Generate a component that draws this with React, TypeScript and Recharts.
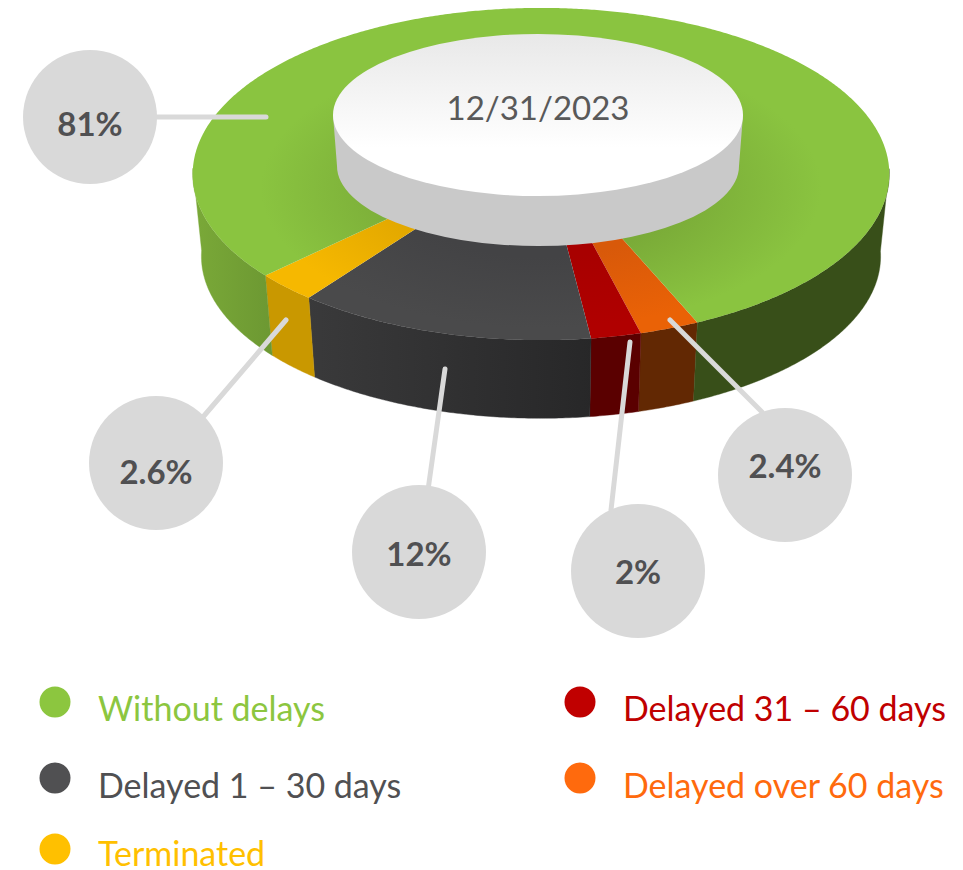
import React from "react";
import { PieChart, Pie, Cell, Legend } from "recharts";

// ---- data ----
const categories = ["Delayed over 60 days", "Delayed 31 – 60 days", "Delayed 1 – 30 days", "Terminated", "Without delays"];
const shares = [2.4, 2, 12, 2.6, 81];
const shareLabels = ["2.4%", "2%", "12%", "2.6%", "81%"];
const centerTitle = "12/31/2023";
const legendOrder = ["Without delays", "Delayed 1 – 30 days", "Terminated", "Delayed 31 – 60 days", "Delayed over 60 days"];

// ---- styles / layout ----
const legendColors: Record<string, string> = {
  "Without delays": "#8CC63F",
  "Delayed 1 – 30 days": "#505052",
  "Terminated": "#FFC000",
  "Delayed 31 – 60 days": "#C00000",
  "Delayed over 60 days": "#FF6A0D",
};
const legendLayout = [
  { cx: 55, cy: 702, tx: 98, ty: 721 },
  { cx: 55, cy: 778, tx: 98, ty: 798 },
  { cx: 55, cy: 849, tx: 98, ty: 866 },
  { cx: 580, cy: 702, tx: 623, ty: 721 },
  { cx: 580, cy: 778, tx: 623, ty: 798 },
];
const topInner = ["#d8590a", "#a80000", "#434345", "#e0a600", "#7aab38"];
const topOuter = ["#ea6206", "#b00000", "#4a4a4b", "#f6b800", "#8ac440"];
const wallStops: [number, string][][] = [
  [[0, "#622803"], [1, "#622803"]],
  [[0, "#5a0000"], [1, "#5a0000"]],
  [[0.16, "#3a3a3b"], [0.6, "#262627"]],
  [[0, "#c99800"], [1, "#c99800"]],
  [[0, "#7aa938"], [0.1, "#6e9a33"], [0.7, "#384f19"], [1, "#384f19"]],
];
const bubbles = [
  { x: 785, y: 475, ty: 478, ax: 670, ay: 320, lx: 762, ly: 412 },
  { x: 638, y: 571, ty: 584, ax: 630, ay: 342, lx: 611, ly: 510 },
  { x: 419, y: 552, ty: 566, ax: 445, ay: 369, lx: 428, ly: 490 },
  { x: 156, y: 463, ty: 484, ax: 286, ay: 320, lx: 203, ly: 417 },
  { x: 90, y: 117, ty: 136, ax: 266, ay: 117, lx: 150, ly: 117 },
];
const PERSPECTIVE = 0.1566;
const FLATTEN = 0.471;
const WALL_DROP = 83;
const WALL_SCALE = 0.975;
const BUBBLE_R = 67;
const FONT = "Lato, 'Open Sans', sans-serif";

type Pt = [number, number];
const RAD = Math.PI / 180;
const project = (cx: number, cy: number, R: number, deg: number, f = 1): { p: Pt; v: number } => {
  const u = Math.cos(deg * RAD) * f;
  const v = -Math.sin(deg * RAD) * f;
  const w = 1 - PERSPECTIVE * v;
  return { p: [cx + (R * u) / w, cy + (R * FLATTEN * v) / w], v };
};
const toD = (pts: Pt[]) => "M" + pts.map((q) => `${q[0].toFixed(2)} ${q[1].toFixed(2)}`).join("L") + "Z";

const SliceShape = (props: any) => {
  const { cx, cy, outerRadius: R, startAngle, endAngle, index } = props;
  const i = index ?? 0;
  const n = Math.max(2, Math.ceil(Math.abs(startAngle - endAngle) * 2));
  const arc: { p: Pt; v: number }[] = [];
  for (let k = 0; k <= n; k++) arc.push(project(cx, cy, R, startAngle + ((endAngle - startAngle) * k) / n));
  const runs: Pt[][] = [];
  let cur: Pt[] | null = null;
  for (const a of arc) {
    if (a.v >= 0.12) {
      if (!cur) {
        cur = [];
        runs.push(cur);
      }
      cur.push(a.p);
    } else cur = null;
  }
  const drop = (q: Pt): Pt => [cx + (q[0] - cx) * WALL_SCALE, cy + WALL_DROP + (q[1] - cy) * WALL_SCALE];
  const gy = cy + 40;
  return (
    <g>
      <defs>
        <linearGradient id={`wall${i}`} gradientUnits="userSpaceOnUse" x1={193} x2={889} y1={0} y2={0}>
          {wallStops[i].map((s, j) => (
            <stop key={j} offset={s[0]} stopColor={s[1]} />
          ))}
        </linearGradient>
        <radialGradient
          id={`top${i}`}
          gradientUnits="userSpaceOnUse"
          cx={cx}
          cy={gy}
          r={330}
          gradientTransform={`translate(${cx} ${gy}) scale(1 0.5) translate(${-cx} ${-gy})`}
        >
          <stop offset={0.42} stopColor={topInner[i]} />
          <stop offset={0.85} stopColor={topOuter[i]} />
        </radialGradient>
      </defs>
      {runs.map((run, j) => (
        <path key={j} d={toD([...run, ...run.map(drop).reverse()])} fill={`url(#wall${i})`} stroke={`url(#wall${i})`} strokeWidth={0.4} />
      ))}
      <path d={toD([[cx, cy], ...arc.map((a) => a.p)])} fill={`url(#top${i})`} />
    </g>
  );
};

const Callout = (props: any) => {
  const i = props.index ?? 0;
  const b = bubbles[i];
  return (
    <g>
      <line x1={b.ax} y1={b.ay} x2={b.lx} y2={b.ly} stroke="#D9D9D9" strokeWidth={5} strokeLinecap="round" />
      <circle cx={b.x} cy={b.y} r={BUBBLE_R} fill="#D9D9D9" />
      <text x={b.x} y={b.ty} textAnchor="middle" fontFamily={FONT} fontWeight={700} fontSize={33} fill="#505052">
        {shareLabels[i]}
      </text>
    </g>
  );
};

const HubShape = (props: any) => {
  const { cx, cy, outerRadius: R } = props;
  const ry = 81;
  const bx = R - 4;
  const by = cy + 51;
  return (
    <g>
      <defs>
        <linearGradient id="hubTop" x1={0} x2={0} y1={0} y2={1}>
          <stop offset={0} stopColor="#E8E8E8" />
          <stop offset={0.7} stopColor="#FFFFFF" />
        </linearGradient>
      </defs>
      <path
        d={`M${cx - R} ${cy}L${cx - bx} ${by}A${bx} 80 0 0 0 ${cx + bx} ${by}L${cx + R} ${cy}Z`}
        fill="#C9C9C9"
      />
      <ellipse cx={cx} cy={cy} rx={R} ry={ry} fill="url(#hubTop)" />
    </g>
  );
};

const HubLabel = (props: any) => (
  <text x={538} y={120} textAnchor="middle" fontFamily={FONT} fontSize={33} fill="#595959">
    {centerTitle}
  </text>
);

const LegendBlock = () => (
  <svg width={963} height={870} style={{ display: "block" }}>
    {legendOrder.map((name, i) => {
      const l = legendLayout[i];
      return (
        <g key={name}>
          <circle cx={l.cx} cy={l.cy} r={15.5} fill={legendColors[name]} />
          <text x={l.tx} y={l.ty} fontFamily={FONT} fontSize={34} fill={legendColors[name]}>
            {name}
          </text>
        </g>
      );
    })}
  </svg>
);

const rows = categories.map((name, i) => ({ name, value: shares[i] }));
const hubRows = [{ name: centerTitle, value: 1 }];

export default function App() {
  return (
    <div style={{ position: "absolute", left: 0, top: 0, width: 963, height: 870, overflow: "hidden", background: "#fff" }}>
      <PieChart width={963} height={870} margin={{ top: 0, right: 0, bottom: 0, left: 0 }}>
        <Pie
          data={rows}
          dataKey="value"
          nameKey="name"
          cx={541}
          cy={148}
          innerRadius={0}
          outerRadius={344}
          startAngle={292.9}
          endAngle={-67.1}
          stroke="none"
          isAnimationActive={false}
          shape={SliceShape}
          inactiveShape={SliceShape}
          label={Callout}
          labelLine={false}
        >
          {rows.map((r) => (
            <Cell key={r.name} />
          ))}
        </Pie>
        <Pie
          data={hubRows}
          dataKey="value"
          cx={538}
          cy={115}
          innerRadius={0}
          outerRadius={205}
          stroke="none"
          isAnimationActive={false}
          shape={HubShape}
          inactiveShape={HubShape}
          label={HubLabel}
          labelLine={false}
        />
        <Legend
          content={<LegendBlock />}
          wrapperStyle={{ position: "absolute", left: 0, top: 0, width: 963, height: 870, pointerEvents: "none" }}
        />
      </PieChart>
    </div>
  );
}
